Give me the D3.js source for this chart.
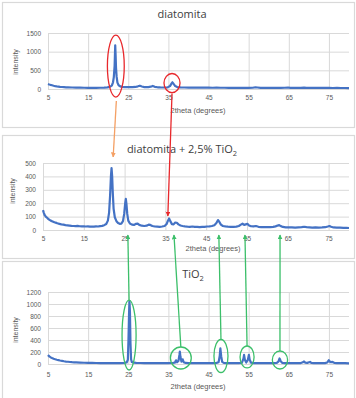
<!DOCTYPE html>
<html><head><meta charset="utf-8">
<script src="https://cdn.jsdelivr.net/npm/d3@7"></script>
<style>
html,body{margin:0;padding:0;background:#fff;}
svg{display:block;font-family:"Liberation Sans","Open Sans",Arial,sans-serif;}
</style></head>
<body>
<svg id="c" width="356" height="398"></svg>
<script>
// ---------- DATA ----------
const xTicks = [5, 15, 25, 35, 45, 55, 65, 75];
const xDomain = [5, 80];

const titles = ["diatomita", "diatomita + 2,5% TiO", "TiO"];
const titleSubs = ["", "2", "2"];
const xTitle = "2theta (degrees)";
const yTitle = "intensity";

const yTicksDiatomita = [0, 500, 1000, 1500];
const yTicksMix = [0, 100, 200, 300, 400, 500];
const yTicksTiO2 = [0, 200, 400, 600, 800, 1000, 1200];

// [2theta, intensity]
const diatomita = [[5,135],[5.3,122],[5.6,112],[6,100],[6.4,88],[6.8,78],[7.2,70],[7.6,64],[8,58],[8.5,53],[9,49],[9.5,46],[10,44],[11,40],[12,37],[13,35],[14,33],[15,32],[16,30],[17,31],[18,33],[19,36],[19.8,44],[20.4,58],[20.9,90],[21.2,180],[21.4,320],[21.6,620],[21.75,1170],[21.85,900],[21.95,560],[22.1,330],[22.3,170],[22.6,100],[23,72],[23.5,58],[24,52],[25,50],[26,48],[26.8,55],[27.4,72],[27.9,88],[28.4,68],[29,52],[30,50],[30.6,62],[31.1,82],[31.6,58],[32.3,46],[33,42],[34,40],[34.8,44],[35.4,78],[35.8,150],[36,180],[36.3,135],[36.7,78],[37.2,52],[38,42],[39,40],[40,38],[41,37],[42,38],[43,36],[44,35],[45,37],[46,34],[47,35],[48,33],[49,34],[50,32],[51,33],[52,31],[53,32],[54,31],[55,30],[56,33],[56.7,46],[57.2,40],[58,31],[59,30],[60,30],[61,29],[62,31],[63,30],[64,33],[64.8,40],[65.4,32],[66,29],[67,30],[68,29],[68.8,36],[69.4,30],[70,28],[71,29],[72,28],[73,29],[74,28],[75,29],[76,27],[77,28],[78,27],[79,27],[80,26]];

const mix = [[5,148],[5.2,128],[5.4,112],[5.6,104],[5.8,96],[6,92],[6.3,82],[6.6,76],[6.9,70],[7.2,66],[7.5,62],[7.8,58],[8.1,55],[8.5,50],[9,46],[9.5,42],[10,40],[10.5,36],[11,35],[11.5,33],[12,31],[12.5,30],[13,29],[13.5,31],[14,28],[14.5,27],[15,28],[15.5,26],[16,27],[16.5,25],[17,26],[17.5,25],[18,27],[18.5,26],[19,29],[19.5,31],[20,36],[20.5,45],[20.9,70],[21.2,130],[21.45,260],[21.65,400],[21.8,462],[21.95,400],[22.1,280],[22.3,160],[22.6,95],[23,66],[23.4,52],[23.8,46],[24.2,48],[24.6,66],[24.9,120],[25.15,200],[25.3,232],[25.45,195],[25.65,120],[25.9,70],[26.3,48],[26.8,40],[27.3,38],[27.8,46],[28.2,48],[28.6,38],[29.2,32],[29.8,30],[30.4,32],[30.9,40],[31.3,38],[31.8,30],[32.4,26],[33,25],[33.6,24],[34.2,26],[34.8,30],[35.3,45],[35.6,68],[35.9,86],[36.2,66],[36.6,44],[37,42],[37.4,56],[37.8,54],[38.2,42],[38.7,34],[39.2,30],[39.8,27],[40.4,25],[41,24],[41.6,26],[42.2,23],[42.8,24],[43.4,22],[44,24],[44.6,23],[45.2,26],[45.8,27],[46.4,30],[47,36],[47.5,52],[47.9,74],[48.2,62],[48.6,40],[49.1,30],[49.7,27],[50.3,25],[51,24],[51.7,23],[52.4,25],[53,30],[53.5,40],[53.9,47],[54.3,38],[54.7,42],[55.1,46],[55.5,34],[56,28],[56.6,27],[57.2,30],[57.8,24],[58.5,22],[59.2,21],[60,22],[60.7,21],[61.4,23],[62,27],[62.5,33],[62.9,36],[63.3,29],[63.8,23],[64.5,20],[65.2,19],[66,20],[66.8,18],[67.6,20],[68.4,21],[69,24],[69.6,21],[70.3,20],[71,18],[71.8,20],[72.6,18],[73.4,19],[74.2,21],[74.8,26],[75.2,30],[75.6,24],[76.2,19],[77,18],[77.8,17],[78.6,16],[79.4,16],[80,15]];

const tio2 = [[5,150],[5.2,135],[5.4,122],[5.7,110],[6,100],[6.4,88],[6.8,78],[7.2,70],[7.6,64],[8,58],[8.5,52],[9,46],[9.5,41],[10,37],[10.5,33],[11,30],[11.5,28],[12,26],[13,23],[14,21],[15,19],[16,18],[17,17],[18,16],[19,16],[20,15],[21,15],[22,15],[23,16],[24,18],[24.6,26],[24.9,70],[25.05,400],[25.2,850],[25.3,1045],[25.42,860],[25.55,350],[25.7,80],[25.9,32],[26.3,22],[27,19],[28,17],[29,16],[30,16],[31,15],[32,15],[33,16],[34,15],[35,16],[36,17],[36.6,22],[36.9,62],[37.15,28],[37.5,50],[37.75,150],[37.85,205],[38,120],[38.25,40],[38.55,78],[38.8,30],[39.3,18],[40,16],[41,15],[42,15],[43,15],[44,15],[45,16],[46,16],[47,18],[47.5,28],[47.8,140],[47.95,262],[48.15,130],[48.4,35],[48.8,18],[49.5,16],[50.5,15],[51.5,15],[52.5,16],[53.3,20],[53.7,90],[53.85,152],[54.05,70],[54.4,24],[54.8,70],[55.05,152],[55.25,70],[55.6,22],[56.2,16],[57,15],[58,15],[59,15],[60,14],[61,15],[62,18],[62.4,40],[62.7,92],[63,45],[63.4,18],[64,15],[65,14],[66,14],[67,14],[68,16],[68.5,28],[68.8,42],[69.1,24],[69.6,18],[70.1,28],[70.3,36],[70.6,20],[71.2,15],[72,14],[73,14],[74,15],[74.6,26],[74.95,62],[75.2,42],[75.5,30],[75.9,34],[76.3,20],[77,15],[78,14],[79,13],[80,12]];

const seriesList = [diatomita, mix, tio2];
const yTickList = [yTicksDiatomita, yTicksMix, yTicksTiO2];

// annotations (in data coordinates of the panel they sit in)
const redEllipses = [
  {panel:0, x:21.9, y:615, rx:2.1, ry:830},
  {panel:0, x:35.9, y:160, rx:2.0, ry:255}
];
const greenEllipses = [
  {panel:2, x:25.2, y:483, rx:1.75, ry:583, tipX:25.8},
  {panel:2, x:38.1, y:100, rx:2.6, ry:183, tipX:37.1},
  {panel:2, x:48.1, y:133, rx:1.75, ry:275, tipX:48.1},
  {panel:2, x:54.6, y:117, rx:1.75, ry:183, tipX:54.5},
  {panel:2, x:62.8, y:67, rx:1.9, ry:150, tipX:63.1}
];
const greenTipY = -37;        // intensity in panel 2 where green arrows end
const orangeArrow = {fromEllipse:0, tipX:22.2, tipY:545};
const redArrow = {fromEllipse:1, tipX:35.6, tipY:104};

// ---------- LAYOUT ----------
const layout = [
  {box:[2,2,352,125], l:48, r:349, t:33, b:89, title:[182,18], xt:[198,113], yt:[18,62], tickY:101, yLabX:41},
  {box:[2,135,352,123], l:43, r:349, t:163, b:230, title:[182,153], xt:[213,251], yt:[15,191], tickY:242, yLabX:36},
  {box:[2,261,352,140], l:48, r:349, t:292, b:364, title:[193,278], xt:[198,389], yt:[18,330], tickY:378, yLabX:41}
];

const svg = d3.select("#c");
const gridC = "#d9d9d9", textC = "#595959", lineC = "#4472c4";
const scales = [];

layout.forEach((L, i) => {
  const g = svg.append("g");
  g.append("rect").attr("x", L.box[0]+0.5).attr("y", L.box[1]+0.5)
    .attr("width", L.box[2]).attr("height", L.box[3])
    .attr("fill", "#fff").attr("stroke", "#d9d9d9").attr("stroke-width", 1.2);

  const yt = yTickList[i];
  const x = d3.scaleLinear().domain(xDomain).range([L.l, L.r]);
  const y = d3.scaleLinear().domain([0, d3.max(yt)]).range([L.b, L.t]);
  scales.push({x, y});

  // horizontal grid
  g.append("g").attr("transform", `translate(${L.l},0)`)
    .call(d3.axisLeft(y).tickValues(yt).tickSize(-(L.r - L.l)).tickFormat(""))
    .call(a => a.select(".domain").remove())
    .call(a => a.selectAll("line").attr("stroke", gridC).attr("stroke-width", 1));
  // vertical grid
  g.append("g").attr("transform", `translate(0,${L.t})`)
    .call(d3.axisTop(x).tickValues(xTicks).tickSize(-(L.b - L.t)).tickFormat(""))
    .call(a => a.select(".domain").remove())
    .call(a => a.selectAll("line").attr("stroke", gridC).attr("stroke-width", 1));

  // y labels
  g.append("g").attr("transform", `translate(${L.yLabX},0)`)
    .call(d3.axisLeft(y).tickValues(yt).tickSize(0).tickPadding(0).tickFormat(d3.format("d")))
    .call(a => a.select(".domain").remove())
    .call(a => a.selectAll("text").attr("fill", textC).attr("font-size", 6.5)
      .attr("font-family", "Liberation Sans, Arial, sans-serif"));
  // x labels
  g.append("g").attr("transform", `translate(0,${L.tickY - 6})`)
    .call(d3.axisBottom(x).tickValues(xTicks).tickSize(0).tickPadding(0).tickFormat(d3.format("d")))
    .call(a => a.select(".domain").remove())
    .call(a => a.selectAll("text").attr("fill", textC).attr("font-size", 6.5)
      .attr("font-family", "Liberation Sans, Arial, sans-serif"));

  // series
  const line = d3.line().x(d => x(d[0])).y(d => y(d[1]));
  g.append("path").datum(seriesList[i]).attr("d", line)
    .attr("fill", "none").attr("stroke", lineC).attr("stroke-width", 2.2)
    .attr("stroke-linejoin", "round");

  // title
  const t = g.append("text").attr("x", L.title[0]).attr("y", L.title[1])
    .attr("text-anchor", "middle").attr("font-size", 11).attr("fill", "#404040")
    .attr("font-family", "Open Sans, Liberation Sans, sans-serif").text(titles[i]);
  if (titleSubs[i]) t.append("tspan").attr("font-size", 7.5).attr("dy", 2.5).text(titleSubs[i]);

  g.append("text").attr("x", L.xt[0]).attr("y", L.xt[1]).attr("text-anchor", "middle")
    .attr("font-size", 7.5).attr("fill", textC).text(xTitle);
  g.append("text").attr("transform", `translate(${L.yt[0]},${L.yt[1]}) rotate(-90)`)
    .attr("text-anchor", "middle").attr("font-size", 7).attr("fill", textC).text(yTitle);
});

// ---------- ANNOTATIONS ----------
const defs = svg.append("defs");
function marker(id, color) {
  defs.append("marker").attr("id", id).attr("viewBox", "0 0 10 10")
    .attr("refX", 9).attr("refY", 5).attr("markerWidth", 5).attr("markerHeight", 5)
    .attr("markerUnits", "userSpaceOnUse").attr("orient", "auto")
    .append("path").attr("d", "M0,0 L10,5 L0,10 z").attr("fill", color);
}
marker("mO", "#f4a064"); marker("mR", "#e8282c"); marker("mG", "#3cbf6a");

const ann = svg.append("g");
function ellPx(e) {
  const s = scales[e.panel];
  const cx = s.x(e.x), cy = s.y(e.y);
  const rx = s.x(e.x + e.rx) - cx, ry = cy - s.y(e.y + e.ry);
  return {cx, cy, rx, ry};
}
const oe = ellPx(redEllipses[orangeArrow.fromEllipse]);
ann.append("line").attr("x1", oe.cx + 0.5).attr("y1", oe.cy + oe.ry + 4)
  .attr("x2", scales[1].x(orangeArrow.tipX)).attr("y2", scales[1].y(orangeArrow.tipY))
  .attr("stroke", "#f4a064").attr("stroke-width", 1.3).attr("marker-end", "url(#mO)");
const re = ellPx(redEllipses[redArrow.fromEllipse]);
ann.append("line").attr("x1", re.cx).attr("y1", re.cy + re.ry + 1)
  .attr("x2", scales[1].x(redArrow.tipX)).attr("y2", scales[1].y(redArrow.tipY))
  .attr("stroke", "#e8282c").attr("stroke-width", 1.3).attr("marker-end", "url(#mR)");

greenEllipses.forEach(e => {
  const p = ellPx(e);
  ann.append("line").attr("x1", p.cx).attr("y1", p.cy - p.ry)
    .attr("x2", scales[1].x(e.tipX)).attr("y2", scales[1].y(greenTipY))
    .attr("stroke", "#3cbf6a").attr("stroke-width", 1.3).attr("marker-end", "url(#mG)");
  ann.append("ellipse").attr("cx", p.cx).attr("cy", p.cy).attr("rx", p.rx).attr("ry", p.ry)
    .attr("fill", "none").attr("stroke", "#3cbf6a").attr("stroke-width", 1.3);
});
redEllipses.forEach(e => {
  const p = ellPx(e);
  ann.append("ellipse").attr("cx", p.cx).attr("cy", p.cy).attr("rx", p.rx).attr("ry", p.ry)
    .attr("fill", "none").attr("stroke", "#e8282c").attr("stroke-width", 1.3);
});
</script>
</body></html>
